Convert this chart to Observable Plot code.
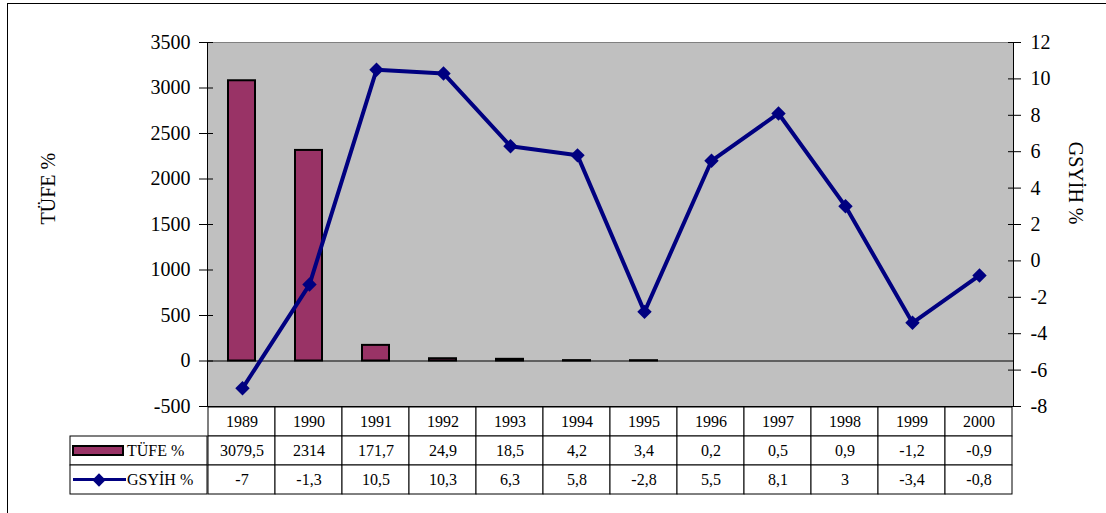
<!DOCTYPE html>
<html><head><meta charset="utf-8">
<script src="https://cdn.jsdelivr.net/npm/d3@7"></script>
<script src="https://cdn.jsdelivr.net/npm/@observablehq/plot@0.6"></script>
<style>
body{margin:0;background:#fff;}
#chart{position:relative;width:1106px;height:513px;overflow:hidden;background:#fff;}
#chart > *{position:absolute;}
#border{left:7px;top:3px;width:1300px;height:700px;border:1px solid #000;}
</style></head><body><div id="chart"><div id="border"></div></div>
<script>
// ---- data ----
const years = [1989, 1990, 1991, 1992, 1993, 1994, 1995, 1996, 1997, 1998, 1999, 2000];
const tufe = [3079.5, 2314, 171.7, 24.9, 18.5, 4.2, 3.4, 0.2, 0.5, 0.9, -1.2, -0.9];
const gsyih = [-7, -1.3, 10.5, 10.3, 6.3, 5.8, -2.8, 5.5, 8.1, 3, -3.4, -0.8];
const tufeTicks = [-500, 0, 500, 1000, 1500, 2000, 2500, 3000, 3500];
const gsyihTicks = [-8, -6, -4, -2, 0, 2, 4, 6, 8, 10, 12];
const rowLabels = ["TÜFE %", "GSYİH %"];
const barCount = 7; // the reference shows bars only for 1989–1995

// ---- layout ----
const W = 1106, H = 513, mL = 207, mR = 93, mT = 42, mB = 107;
const font = "'Liberation Serif','Times New Roman',serif";
const fmt = d => String(d).replace(".", ",");
const data = years.map((year, i) => ({year, tufe: tufe[i], gsyih: gsyih[i]}));
const chart = document.getElementById("chart");

const bars = Plot.plot({
  width: W, height: H, marginLeft: mL, marginRight: mR, marginTop: mT, marginBottom: mB,
  style: {fontFamily: font, fontSize: "20px", background: "transparent", overflow: "visible", color: "#000"},
  x: {type: "band", domain: years, padding: 0, axis: null},
  y: {domain: [tufeTicks[0], tufeTicks[tufeTicks.length - 1]]},
  marks: [
    Plot.frame({fill: "#c0c0c0", stroke: "#000"}),
    Plot.ruleY([tufeTicks[tufeTicks.length - 1]], {stroke: "#808080"}),
    Plot.ruleY([0], {stroke: "#000"}),
    Plot.barY(data.slice(0, barCount), {x: "year", y: "tufe", fill: "#993366", stroke: "#000", strokeWidth: 2, insetLeft: 20, insetRight: 20}),
    Plot.axisY({ticks: tufeTicks, tickSize: 14, dx: 6, tickFormat: () => "", label: null}),
    Plot.axisY({ticks: tufeTicks, tickSize: 0, tickPadding: 17, tickFormat: fmt, label: null}),
    Plot.text([rowLabels[0]], {text: d => d, frameAnchor: "left", dx: -159, rotate: -90, fill: "#000"})
  ]
});
chart.appendChild(bars);
bars.style.left = "0px"; bars.style.top = "0px";

const lineP = Plot.plot({
  width: W, height: H, marginLeft: mL, marginRight: mR, marginTop: mT, marginBottom: mB,
  style: {fontFamily: font, fontSize: "20px", background: "transparent", overflow: "visible", color: "#000"},
  x: {type: "point", domain: years, padding: 0.5, axis: null},
  y: {domain: [gsyihTicks[0], gsyihTicks[gsyihTicks.length - 1]]},
  marks: [
    Plot.line(data, {x: "year", y: "gsyih", stroke: "#000080", strokeWidth: 4}),
    Plot.dot(data, {x: "year", y: "gsyih", symbol: "diamond2", r: 6.5, fill: "#000080", stroke: "none"}),
    Plot.axisY({anchor: "right", ticks: gsyihTicks, tickSize: 13, dx: -6, tickFormat: () => "", label: null}),
    Plot.axisY({anchor: "right", ticks: gsyihTicks, tickSize: 0, tickPadding: 17, tickFormat: fmt, label: null}),
    Plot.text([rowLabels[1]], {text: d => d, frameAnchor: "right", dx: 62, rotate: 90, fill: "#000"})
  ]
});
chart.appendChild(lineP);
lineP.style.left = "0px"; lineP.style.top = "0px";

// ---- data table ----
const rows = ["year", ...rowLabels];
const cells = [];
years.forEach((year, i) => {
  cells.push({year, row: "year", text: String(year)});
  cells.push({year, row: rowLabels[0], text: fmt(tufe[i])});
  cells.push({year, row: rowLabels[1], text: fmt(gsyih[i])});
});
const table = Plot.plot({
  width: W, height: 90, marginLeft: mL, marginRight: mR, marginTop: 0, marginBottom: 1,
  x: {type: "band", domain: years, padding: 0, axis: null},
  y: {type: "band", domain: rows, padding: 0, axis: null},
  style: {fontFamily: font, fontSize: "16px", background: "transparent", overflow: "visible", color: "#000"},
  marks: [
    Plot.cell(cells, {x: "year", y: "row", fill: "#fff", stroke: "#000"}),
    Plot.text(cells, {x: "year", y: "row", text: "text", fill: "#000"})
  ]
});
chart.appendChild(table);
table.style.left = "0px"; table.style.top = "406px";

const legend = Plot.plot({
  width: 148, height: 90, marginLeft: 10, marginRight: 1, marginTop: 0, marginBottom: 1,
  x: {type: "band", domain: ["legend"], padding: 0, axis: null},
  y: {type: "band", domain: rows, padding: 0, axis: null},
  style: {fontFamily: font, fontSize: "16px", background: "transparent", overflow: "visible", color: "#000"},
  marks: [
    Plot.cell(rowLabels, {x: () => "legend", y: d => d, fill: "#fff", stroke: "#000"}),
    Plot.cell([rowLabels[0]], {x: () => "legend", y: d => d, insetLeft: 3, insetRight: 84, insetTop: 10, insetBottom: 10, fill: "#993366", stroke: "#000", strokeWidth: 2}),
    Plot.cell([rowLabels[1]], {x: () => "legend", y: d => d, insetLeft: 3, insetRight: 81, insetTop: 13, insetBottom: 13, fill: "#000080"}),
    Plot.dot([rowLabels[1]], {x: () => "legend", y: d => d, dx: -40, symbol: "diamond2", r: 6, fill: "#000080", stroke: "none"}),
    Plot.text(rowLabels, {x: () => "legend", y: d => d, text: d => d, textAnchor: "start", dx: -12, fill: "#000"})
  ]
});
chart.appendChild(legend);
legend.style.left = "60px"; legend.style.top = "406px";
</script>
</body></html>
